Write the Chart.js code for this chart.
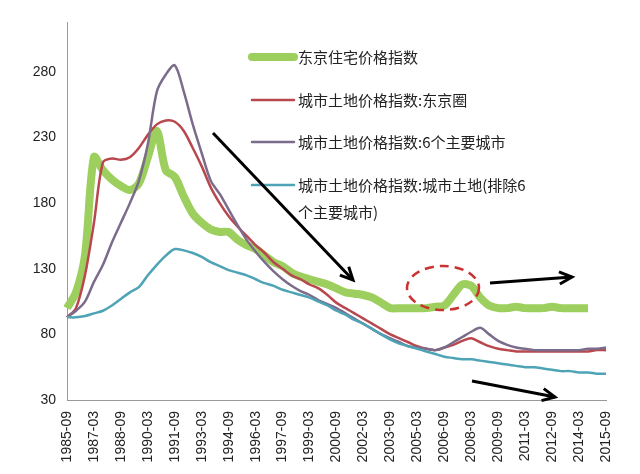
<!DOCTYPE html>
<html><head><meta charset="utf-8">
<script src="https://cdn.jsdelivr.net/npm/chart.js@4/dist/chart.umd.min.js"></script>
<style>html,body{margin:0;padding:0;background:#fff}#w{width:640px;height:474px}</style>
</head><body><div id="w"><canvas id="c"></canvas></div>
<script>
const categories=[];
for(let y=1985;y<=2015;y++){if(y>1985)categories.push(y+'-03');categories.push(y+'-09');}
const tickLabels=['1985-09','1987-03','1988-09','1990-03','1991-09','1993-03','1994-09','1996-03','1997-09','1999-03','2000-09','2002-03','2003-09','2005-03','2006-09','2008-03','2009-09','2011-03','2012-09','2014-03','2015-09'];
const yTicks=[30,80,130,180,230,280];
const seriesNames=['东京住宅价格指数','城市土地价格指数:东京圈','城市土地价格指数:6个主要城市','城市土地价格指数:城市土地(排除6','个主要城市)'];
const tokyoHousing=[100,112,140,215,205,198,193,190,195,215,235,205,200,185,172,165,160,158,158,152,148,145,140,135,132,127,124,122,120,118,115,112,111,110,108,104,100,100,100,100,100,101,102,110,118,117,108,102,100,100,101,100,100,100,101,100,100,100,100,null,null];
const tokyoLand=[93,100,125,165,211,214,213,215,222,232,240,243,242,235,222,208,192,180,170,162,155,148,142,135,130,125,122,118,115,110,104,100,96,92,88,84,80,77,74,71,69,68,70,72,75,77,74,71,69,68,67,67,67,67,67,67,67,67,67,68,68];
const sixCities=[93,98,105,120,133,150,165,180,197,225,265,278,285,265,240,218,197,187,175,163,152,143,135,128,122,117,113,110,106,103,100,96,92,88,84,80,77,74,71,70,69,68,70,74,78,82,85,80,75,72,70,69,68,68,68,68,68,68,69,69,70];
const otherLand=[93,93,94,96,98,102,107,112,116,125,133,140,145,144,142,139,135,132,129,127,125,122,119,117,114,112,110,108,105,102,98,95,91,88,84,80,76,73,71,69,67,65,63,62,61,61,60,59,58,57,56,55,55,54,53,52,52,51,51,50,50];
const colors=['#9dcf5e','#b8474e','#7b6c8c','#4ea4b6'];

const deco={id:'deco',afterDatasetsDraw(ch){
  const c=ch.ctx;c.save();
  const items=[[57,0,8],[100,1,2.5],[142,2,2.5],[185,3,2.5]];
  c.font='15px "Noto Sans CJK SC"';c.textBaseline='middle';c.fillStyle='#222';
  items.forEach(([y,i,w])=>{c.strokeStyle=colors[i];c.lineWidth=w;c.lineCap='round';c.beginPath();c.moveTo(252,y);c.lineTo(294,y);c.stroke();c.fillText(seriesNames[i],298,y);});
  c.fillText(seriesNames[4],298,212);
  function arrow(x1,y1,x2,y2){c.strokeStyle='#000';c.lineWidth=3;c.lineCap='butt';c.beginPath();c.moveTo(x1,y1);c.lineTo(x2,y2);c.stroke();
    const a=Math.atan2(y2-y1,x2-x1),L=14;c.beginPath();c.moveTo(x2-L*Math.cos(a-0.45),y2-L*Math.sin(a-0.45));c.lineTo(x2,y2);c.lineTo(x2-L*Math.cos(a+0.45),y2-L*Math.sin(a+0.45));c.stroke();}
  arrow(213,133,353,280);arrow(490,283,572,277);arrow(472,381,555,397);
  c.strokeStyle='#c8332f';c.lineWidth=2.5;c.setLineDash([9,6]);c.beginPath();c.ellipse(443,288,36,22,0,0,Math.PI*2);c.stroke();
  c.restore();}};

const mk=(d,i,w)=>({data:d,borderColor:colors[i],borderWidth:w,pointRadius:0,tension:0.3,fill:false});
new Chart(document.getElementById('c'),{type:'line',
 data:{labels:categories,datasets:[mk(otherLand,3,2.5),mk(sixCities,2,2.5),mk(tokyoLand,1,2.5),mk(tokyoHousing,0,8)]},
 options:{responsive:true,maintainAspectRatio:false,animation:false,
  layout:{padding:{top:22,right:34,left:0,bottom:0}},
  plugins:{legend:{display:false},tooltip:{enabled:false}},
  scales:{
   x:{grid:{display:false},border:{color:'#999'},afterFit(s){s.height=74;},
     ticks:{autoSkip:false,maxRotation:90,minRotation:90,color:'#222',font:{size:14,family:'Liberation Sans'},
       callback(v,i){const l=categories[i];return tickLabels.includes(l)?l:null;}}},
   y:{min:30,max:318,grid:{display:false},border:{color:'#999'},afterFit(s){s.width=67;},
     afterBuildTicks(s){s.ticks=yTicks.map(v=>({value:v}));},
     ticks:{color:'#222',font:{size:14,family:'Liberation Sans'}}}
  }},plugins:[deco]});
</script></body></html>
